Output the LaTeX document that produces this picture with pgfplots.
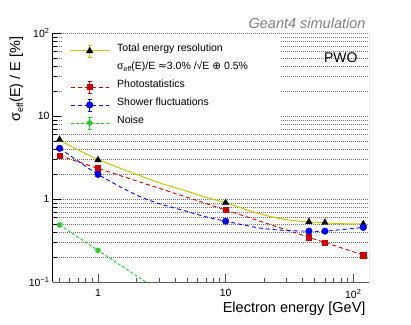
\documentclass[border=0pt]{standalone}
\usepackage{fontspec}
\setmainfont{Liberation Sans}
\newfontfamily\dejavu{DejaVu Sans}
\usepackage{pgfplots}
\pgfplotsset{compat=1.18}
\definecolor{rootyellow}{HTML}{C8C800}
\definecolor{rootred}{HTML}{CC0000}
\definecolor{rootblue}{HTML}{0000EE}
\definecolor{rootgreen}{HTML}{22CC22}

\begin{document}
\begin{tikzpicture}
\useasboundingbox (-53pt,-42pt) rectangle (358pt,282pt);
\begin{axis}[
  scale only axis,
  width=316pt, height=249pt,
  xmode=log, ymode=log,
  xmin=0.444, xmax=133, ymin=0.1, ymax=100,
  axis x line*=bottom, axis y line*=left,
  x axis line style={black!65, line width=0.9pt},
  y axis line style={black, line width=1pt},
  tick align=inside,
  major tick length=8pt, minor tick length=4pt,
  x tick style={black!65, line width=0.6pt},
  y tick style={black, line width=0.6pt},
  xtick={1,10,100}, xticklabels={1,10,10\textsuperscript{2}},
  minor xtick={0.5,0.6,0.7,0.8,0.9,2,3,4,5,6,7,8,9,20,30,40,50,60,70,80,90},
  ytick={0.1,1,10,100}, yticklabels={10\textsuperscript{−1},1,10,10\textsuperscript{2}},
  minor ytick={0.2,0.3,0.4,0.5,0.6,0.7,0.8,0.9,2,3,4,5,6,7,8,9,20,30,40,50,60,70,80,90},
  ymajorgrids, yminorgrids,
  major grid style={black!55, line width=0.6pt, dash pattern=on 1pt off 1pt},
  minor grid style={black!55, line width=0.6pt, dash pattern=on 1pt off 1pt},
  ticklabel style={font=\fontsize{10.5}{12}\selectfont},
  xticklabel style={yshift=-4pt},
  label style={font=\fontsize{14.5}{17}\selectfont},
  xlabel={Electron energy [GeV]},
  xlabel style={at={(axis description cs:1,-0.1205)}, anchor=base east},
  ylabel={σ\raisebox{-0.4ex}{\fontsize{9}{9}\selectfont eff}(E) / E [\%]},
  ylabel style={at={(axis description cs:-0.1044,1)}, anchor=base east},
  legend cell align=left,
  legend style={at={(axis description cs:0,1)}, anchor=north west,
    draw=none, fill=none, inner xsep=17pt, inner ysep=11pt,
    row sep=4.5pt, column sep=8pt,
    font=\fontsize{10.5}{12}\selectfont,
    nodes={inner sep=0pt, text height=7.5pt, text depth=6pt}},
]
% white legend box over the grid, leaving the axis line and ticks free
\fill[white] (axis description cs:0.0275,0.61) rectangle (axis description cs:0.718,0.997);

% total resolution fit
\addplot[rootyellow, line width=1pt, smooth, forget plot] coordinates {
  (0.5,5.1) (0.7,3.9) (1,3.0) (1.5,2.34) (2.2,1.88) (3,1.57) (5,1.24)
  (7,1.05) (10,0.9) (19,0.655) (30,0.565) (45,0.53) (60,0.515) (90,0.502) (125,0.50)
};
% photostatistics
\addplot[rootred, line width=0.9pt, dash pattern=on 4pt off 3pt, forget plot] coordinates {
  (0.5,3.33) (1,2.34) (10,0.74) (45,0.345) (60,0.30) (120,0.211)
};
% shower fluctuations
\addplot[rootblue, line width=0.9pt, dash pattern=on 4pt off 3pt, smooth, forget plot] coordinates {
  (0.5,4.08) (0.7,2.85) (1,1.98) (1.5,1.4) (2.13,1.07) (3,0.88) (4.8,0.72) (7,0.61)
  (10,0.54) (18,0.45) (28,0.42) (45,0.41) (60,0.41) (98,0.44) (120,0.455)
};
% noise
\addplot[rootgreen, line width=0.9pt, dash pattern=on 3pt off 2pt, forget plot] coordinates {
  (0.5,0.486) (1,0.241) (2.37,0.1)
};

\addplot[only marks, mark=triangle*, mark size=3.8pt, black, forget plot] coordinates {
  (0.5,5.2) (1,2.95) (10,0.9) (45,0.53) (60,0.52) (120,0.50)
};
\addplot[only marks, mark=square*, mark size=2.7pt, rootred, forget plot] coordinates {
  (0.5,3.33) (1,2.34) (10,0.74) (45,0.345) (60,0.30) (120,0.211)
};
\addplot[only marks, mark=*, mark size=3.3pt, rootblue, forget plot] coordinates {
  (0.5,4.08) (1,1.98) (10,0.54) (45,0.41) (60,0.41) (120,0.455)
};
\addplot[only marks, mark=*, mark size=2.5pt, rootgreen, forget plot] coordinates {
  (0.5,0.486) (1,0.241)
};

\addlegendimage{legend image code/.code={
  \draw[rootyellow, line width=1pt] (0pt,0pt) -- (38pt,0pt);
  \draw[rootyellow, line width=0.8pt] (19pt,-6pt) -- (19pt,6pt) (17pt,-6pt) -- (21pt,-6pt) (17pt,6pt) -- (21pt,6pt);
  \draw[black, fill=black] plot[only marks, mark=triangle*, mark size=3.8pt] coordinates {(19pt,0pt)};
}}
\addlegendentry{Total energy resolution}
\addlegendimage{empty legend}
\addlegendentry{σ\raisebox{-0.4ex}{\fontsize{7}{7}\selectfont eff}(E)/E {\dejavu ≈}3.0\% /√E {\dejavu ⊕} 0.5\%}
\addlegendimage{legend image code/.code={
  \draw[rootred, line width=0.9pt, dash pattern=on 4pt off 3pt] (0pt,0pt) -- (38pt,0pt);
  \draw[rootred, line width=0.8pt] (19pt,-6pt) -- (19pt,6pt) (17pt,-6pt) -- (21pt,-6pt) (17pt,6pt) -- (21pt,6pt);
  \draw[rootred, fill=rootred] plot[only marks, mark=square*, mark size=2.7pt] coordinates {(19pt,0pt)};
}}
\addlegendentry{Photostatistics}
\addlegendimage{legend image code/.code={
  \draw[rootblue, line width=0.9pt, dash pattern=on 4pt off 3pt] (0pt,0pt) -- (38pt,0pt);
  \draw[rootblue, line width=0.8pt] (19pt,-6pt) -- (19pt,6pt) (17pt,-6pt) -- (21pt,-6pt) (17pt,6pt) -- (21pt,6pt);
  \draw[rootblue, fill=rootblue] plot[only marks, mark=*, mark size=3.3pt] coordinates {(19pt,0pt)};
}}
\addlegendentry{Shower fluctuations}
\addlegendimage{legend image code/.code={
  \draw[rootgreen, line width=0.9pt, dash pattern=on 3pt off 2pt] (0pt,0pt) -- (38pt,0pt);
  \draw[rootgreen, line width=0.8pt] (19pt,-6pt) -- (19pt,6pt) (17pt,-6pt) -- (21pt,-6pt) (17pt,6pt) -- (21pt,6pt);
  \draw[rootgreen, fill=rootgreen] plot[only marks, mark=*, mark size=2.5pt] coordinates {(19pt,0pt)};
}}
\addlegendentry{Noise}

\draw[black!65, line width=0.9pt] (rel axis cs:1,0) -- (rel axis cs:1,1);
\node[font=\fontsize{14}{16}\selectfont] at (axis description cs:0.911,0.9) {PWO};
\end{axis}
\node[anchor=base east, text=black!50, font=\itshape\fontsize{14.5}{16}\selectfont]
  at (316pt,253.5pt) {Geant4 simulation};
\end{tikzpicture}
\end{document}
